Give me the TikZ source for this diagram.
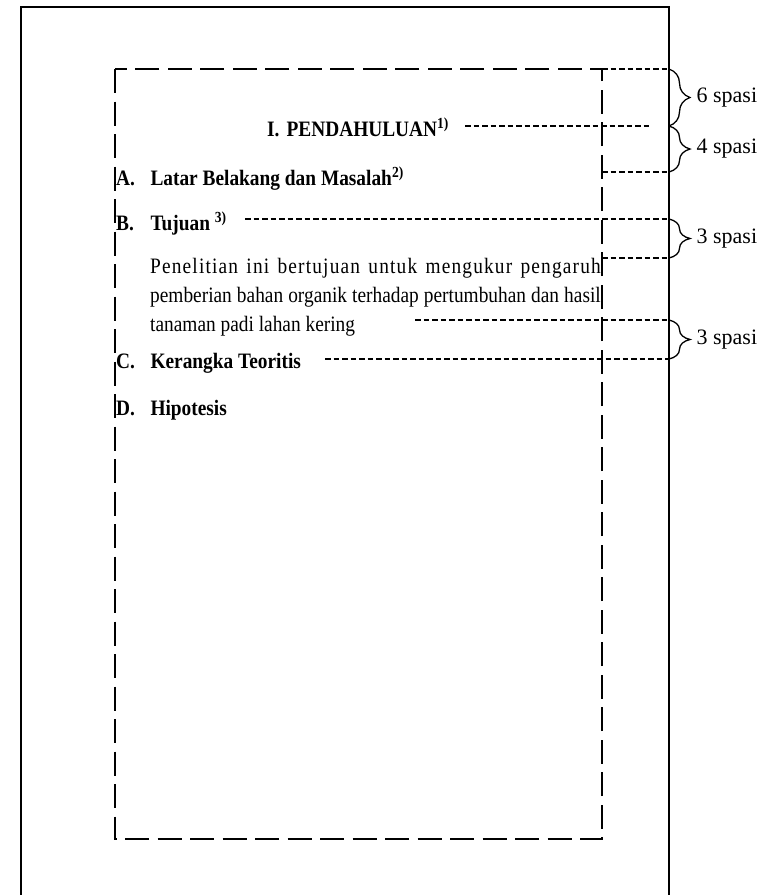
\documentclass[tikz,border=0pt]{standalone}
\usepackage{fontspec}
\setmainfont{Liberation Serif}
\usetikzlibrary{decorations.pathreplacing}
\newcommand{\narrowtext}[1]{\scalebox{0.88}[1]{#1}}

\begin{document}
\begin{tikzpicture}[x=1pt,y=-1pt,
		text_style/.style={anchor=base west,inner sep=0pt,font=\fontsize{22}{26}\selectfont},
		head_style/.style={anchor=base west,inner sep=0pt,font=\fontsize{22}{26}\selectfont\bfseries},
		label_style/.style={anchor=west,inner sep=0pt,font=\fontsize{22}{26}\selectfont},
		frame_style/.style={draw=black,line width=2.2pt},
		box_style/.style={draw=black,line width=2.6pt,dash pattern=on 24pt off 8.5pt},
		guide_style/.style={draw=black,line width=1.3pt,dash pattern=on 5.5pt off 3pt},
		brace_style/.style={draw=black,line width=1.3pt,decorate,decoration={brace,amplitude=21pt}}]

		\useasboundingbox (0,0) rectangle (775,895);

		% page frame and text area
		\coordinate (f_sw) at (21,897);
		\coordinate (f_nw) at (21,7);
		\coordinate (f_ne) at (669,7);
		\coordinate (f_se) at (669,897);
		\draw[frame_style] (f_sw) -- (f_nw) -- (f_ne) -- (f_se);
		\coordinate (b_nw) at (115,69);
		\coordinate (b_se) at (602,839);
		\draw[box_style] (b_nw) rectangle (b_se);

		% texts
		\node[head_style] (n_title) at (267,136) {\narrowtext{I.\hspace{8pt}PENDAHULUAN\textsuperscript{1)}}};
		\node[head_style] (n_a) at (116,185) {\narrowtext{\makebox[39pt][l]{A.}Latar Belakang dan Masalah\textsuperscript{2)}}};
		\node[head_style] (n_b) at (116,230) {\narrowtext{\makebox[39pt][l]{B.}Tujuan \textsuperscript{3)}}};
		\node[text_style] (n_p1) at (150,273) {\narrowtext{\addfontfeatures{LetterSpace=6}\makebox[512pt][s]{Penelitian ini bertujuan untuk mengukur pengaruh}}};
		\node[text_style] (n_p2) at (150,302) {\narrowtext{\makebox[512pt][s]{pemberian bahan organik terhadap pertumbuhan dan hasil}}};
		\node[text_style] (n_p3) at (150,331) {\narrowtext{tanaman padi lahan kering}};
		\node[head_style] (n_c) at (116,368) {\narrowtext{\makebox[39pt][l]{C.}Kerangka Teoritis}};
		\node[head_style] (n_d) at (116,415) {\narrowtext{\makebox[39pt][l]{D.}Hipotesis}};

		% spacing guides
		\coordinate (g1s) at (602,69);   \coordinate (g1e) at (669,69);
		\coordinate (g2s) at (465,126);  \coordinate (g2e) at (650,126);
		\coordinate (g3s) at (602,172);  \coordinate (g3e) at (669,172);
		\coordinate (g4s) at (245,219);  \coordinate (g4e) at (669,219);
		\coordinate (g5s) at (602,258);  \coordinate (g5e) at (669,258);
		\coordinate (g6s) at (415,320);  \coordinate (g6e) at (669,320);
		\coordinate (g7s) at (325,359);  \coordinate (g7e) at (669,359);
		\coordinate (g2r) at (669,126);

		\draw[guide_style] (g1s) -- (g1e);
		\draw[guide_style] (g2s) -- (g2e);
		\draw[guide_style] (g3s) -- (g3e);
		\draw[guide_style] (g4s) -- (g4e);
		\draw[guide_style] (g5s) -- (g5e);
		\draw[guide_style] (g6s) -- (g6e);
		\draw[guide_style] (g7s) -- (g7e);

		% braces
		\draw[brace_style] (g1e) -- (g2r) node[midway,label_style,xshift=27pt] (l_six) {6 spasi};
		\draw[brace_style] (g2r) -- (g3e) node[midway,label_style,xshift=27pt] (l_four) {4 spasi};
		\draw[brace_style] (g4e) -- (g5e) node[midway,label_style,xshift=27pt] (l_three) {3 spasi};
		\draw[brace_style] (g6e) -- (g7e) node[midway,label_style,xshift=27pt] (l_three2) {3 spasi};
\end{tikzpicture}
\end{document}
